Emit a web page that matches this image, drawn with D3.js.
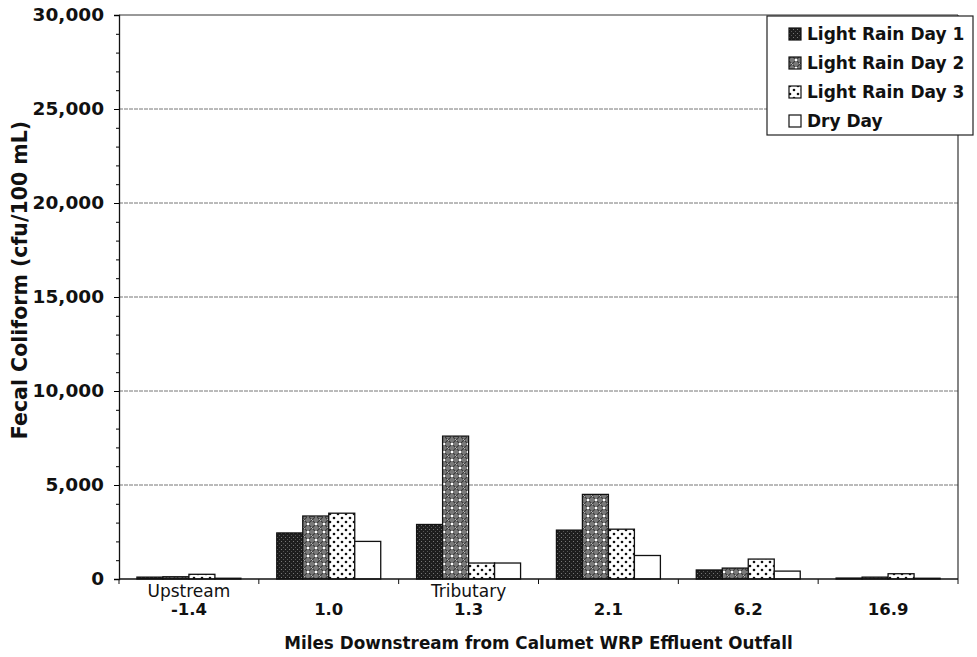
<!DOCTYPE html>
<html><head><meta charset="utf-8">
<script src="https://cdn.jsdelivr.net/npm/d3@7"></script>
<style>
body{margin:0;background:#fff;}
text{font-family:"DejaVu Sans",Arial,Helvetica,sans-serif;fill:#111;}
</style></head>
<body><svg id="c" width="977" height="657"></svg>
<script>
const categories = ["-1.4","1.0","1.3","2.1","6.2","16.9"];
const categoryNotes = ["Upstream","","Tributary","","",""];
const seriesNames = ["Light Rain Day 1","Light Rain Day 2","Light Rain Day 3","Dry Day"];
const day1 = [100, 2450, 2900, 2600, 480, 50];
const day2 = [120, 3350, 7600, 4500, 580, 100];
const day3 = [250, 3500, 850, 2650, 1060, 280];
const dryDay = [40, 2000, 850, 1250, 420, 40];
const yTicks = [0,5000,10000,15000,20000,25000,30000];
const seriesValues = [day1, day2, day3, dryDay];

const svg = d3.select("#c");
const L=119, R=958, T=15, B=579;
const defs = svg.append("defs");

const p1 = defs.append("pattern").attr("id","p0").attr("patternUnits","userSpaceOnUse").attr("width",4).attr("height",4);
p1.append("rect").attr("width",4).attr("height",4).attr("fill","#1e1e1e");
p1.append("rect").attr("x",1).attr("y",1).attr("width",1).attr("height",1).attr("fill","#777");
p1.append("rect").attr("x",3).attr("y",3).attr("width",1).attr("height",1).attr("fill","#555");
const p2 = defs.append("pattern").attr("id","p1").attr("patternUnits","userSpaceOnUse").attr("width",8).attr("height",8);
p2.append("rect").attr("width",8).attr("height",8).attr("fill","#7a7a7a");
p2.append("path").attr("d","M0,0L8,8M8,0L0,8").attr("stroke","#3a3a3a").attr("stroke-width",1.2);
p2.append("circle").attr("cx",4).attr("cy",4).attr("r",1.3).attr("fill","#fff");
p2.append("circle").attr("cx",0).attr("cy",0).attr("r",1).attr("fill","#ddd");
p2.append("circle").attr("cx",8).attr("cy",8).attr("r",1).attr("fill","#ddd");
const p3 = defs.append("pattern").attr("id","p2").attr("patternUnits","userSpaceOnUse").attr("width",8).attr("height",8);
p3.append("rect").attr("width",8).attr("height",8).attr("fill","#fff");
p3.append("circle").attr("cx",2).attr("cy",2).attr("r",1.3).attr("fill","#111");
p3.append("circle").attr("cx",6).attr("cy",6).attr("r",1.3).attr("fill","#111");
const fills = ["url(#p0)","url(#p1)","url(#p2)","#fff"];

const x0 = d3.scaleBand().domain(categories).range([L,R]).padding(0);
const x1 = d3.scaleBand().domain(d3.range(4)).range([0,x0.bandwidth()]).paddingInner(0).paddingOuter(0.69);
const y = d3.scaleLinear().domain([0,30000]).range([B,T]);

svg.append("g").selectAll("line").data(yTicks.filter(d=>d>0 && d<30000)).join("line")
  .attr("x1",L).attr("x2",R).attr("y1",d=>y(d)).attr("y2",d=>y(d))
  .attr("stroke","#777").attr("stroke-width",1).attr("stroke-dasharray","4,1");

const g = svg.append("g");
categories.forEach((c,i)=>{
  seriesValues.forEach((vals,s)=>{
    g.append("rect").attr("x",x0(c)+x1(s)).attr("width",x1.bandwidth())
     .attr("y",y(vals[i])).attr("height",B-y(vals[i]))
     .attr("fill",fills[s]).attr("stroke","#111").attr("stroke-width",1.3);
  });
});

svg.append("line").attr("x1",L).attr("x2",R).attr("y1",T).attr("y2",T).attr("stroke","#333").attr("stroke-width",1);
svg.append("line").attr("x1",R).attr("x2",R).attr("y1",T).attr("y2",B).attr("stroke","#333").attr("stroke-width",1.2);

const yAxis = d3.axisLeft(y).tickValues(yTicks).tickSize(5).tickFormat(d3.format(","));
const ya = svg.append("g").attr("transform",`translate(${L},0)`).call(yAxis);
ya.select(".domain").attr("stroke","#111").attr("stroke-width",1.3);
ya.selectAll(".tick text").attr("x",-15).attr("font-size",18.5).attr("font-weight","bold").attr("fill","#111")
  .attr("font-family","DejaVu Sans");
const yMinor = d3.axisLeft(y).tickValues(d3.range(0,30001,1000)).tickSize(3).tickFormat("");
const ym = svg.append("g").attr("transform",`translate(${L},0)`).call(yMinor);
ym.select(".domain").remove();

const xa = svg.append("g").attr("transform",`translate(0,${B})`);
xa.append("line").attr("x1",L).attr("x2",R).attr("stroke","#111").attr("stroke-width",1.3);
xa.selectAll("line.t").data(d3.range(categories.length+1)).join("line").attr("class","t")
  .attr("x1",i=>L+i*x0.step()).attr("x2",i=>L+i*x0.step()).attr("y1",0).attr("y2",5).attr("stroke","#111");
xa.selectAll("text.n").data(categoryNotes).join("text").attr("class","n")
  .attr("x",(d,i)=>x0(categories[i])+x0.bandwidth()/2).attr("y",18).attr("text-anchor","middle")
  .attr("font-size",17).text(d=>d);
xa.selectAll("text.c").data(categories).join("text").attr("class","c")
  .attr("x",d=>x0(d)+x0.bandwidth()/2).attr("y",36).attr("text-anchor","middle")
  .attr("font-size",16.5).attr("font-weight","bold").text(d=>d);

svg.append("text").attr("x",(L+R)/2).attr("y",649).attr("text-anchor","middle")
  .attr("font-size",16.8).attr("font-weight","bold").text("Miles Downstream from Calumet WRP Effluent Outfall");
svg.append("text").attr("transform",`translate(27,280) rotate(-90)`).attr("text-anchor","middle")
  .attr("font-size",20.5).attr("font-weight","bold").text("Fecal Coliform (cfu/100 mL)");

const lg = svg.append("g");
lg.append("rect").attr("x",767).attr("y",16).attr("width",206).attr("height",119).attr("fill","#fff").attr("stroke","#222").attr("stroke-width",1.2);
seriesNames.forEach((n,i)=>{
  const yy = 34+i*29;
  lg.append("rect").attr("x",789).attr("y",yy-6).attr("width",12).attr("height",12).attr("fill",fills[i]).attr("stroke","#111").attr("stroke-width",1.2);
  lg.append("text").attr("x",807).attr("y",yy+6).attr("font-size",17).attr("font-weight","bold").text(n);
});
</script></body></html>
